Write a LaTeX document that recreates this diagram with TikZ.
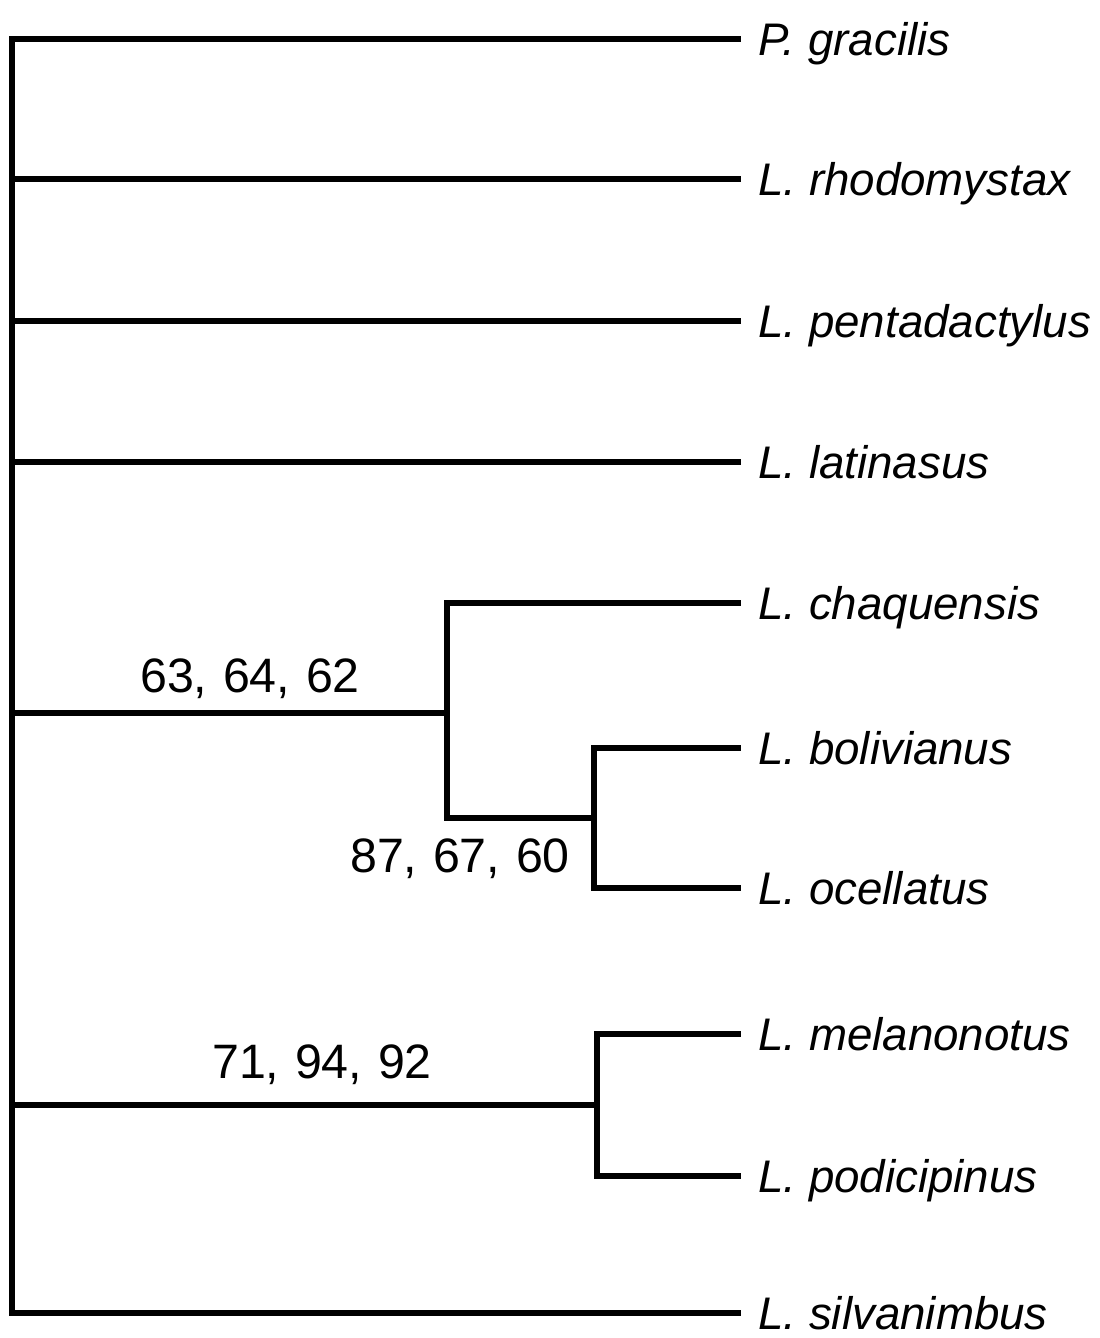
\documentclass[tikz,border=0pt]{standalone}
\usepackage{fontspec}
\setmainfont{Liberation Sans}
\usetikzlibrary{positioning}
\newcommand\bsvals[3]{#1,\hspace{9pt}#2,\hspace{9pt}#3}
\tikzset{
	branch/.style={line width=3.9pt, line cap=rect, line join=miter},
	taxon/.style={anchor=west, font=\fontsize{26}{30}\selectfont\itshape,
		inner xsep=0.4cm, inner ysep=0pt, text height=18.6pt, text depth=0pt},
	support/.style={anchor=base, font=\fontsize{27.5}{31}\selectfont, inner sep=0pt}
}
\begin{document}
\begin{tikzpicture}[x=0.02cm, y=-0.02cm]
	\useasboundingbox (0,0) rectangle (1099,1338);
	% terminal taxa
	\foreach \n/\y/\t in {grac/39/P. gracilis, rhod/179/L. rhodomystax,
			pent/321/L. pentadactylus, lati/462/L. latinasus,
			chaq/603/L. chaquensis, boli/748/L. bolivianus,
			ocel/888/L. ocellatus, mela/1034/L. melanonotus,
			podi/1176/L. podicipinus, silv/1313/L. silvanimbus}
		\node[taxon] (\n) at (738,\y) {\t};
	% internal nodes
	\coordinate (root) at (12,39);
	\coordinate (cladeA) at (447,713);
	\coordinate (cladeB) at (594,818);
	\coordinate (cladeC) at (597,1105);
	% branches
	\foreach \n in {grac, rhod, pent, lati, silv}
		\draw[branch] (root) |- (\n);
	\draw[branch] (root) |- (cladeA);
	\draw[branch] (root) |- (cladeC);
	\draw[branch] (cladeA) |- (chaq);
	\draw[branch] (cladeA) |- (cladeB);
	\foreach \a/\b in {cladeB/boli, cladeB/ocel, cladeC/mela, cladeC/podi}
		\draw[branch] (\a) |- (\b);
	% support values
	\node[support] (bsA) at (250,692) {\bsvals{63}{64}{62}};
	\node[support] (bsB) at (460,872) {\bsvals{87}{67}{60}};
	\node[support] (bsC) at (322,1078) {\bsvals{71}{94}{92}};
\end{tikzpicture}
\end{document}
